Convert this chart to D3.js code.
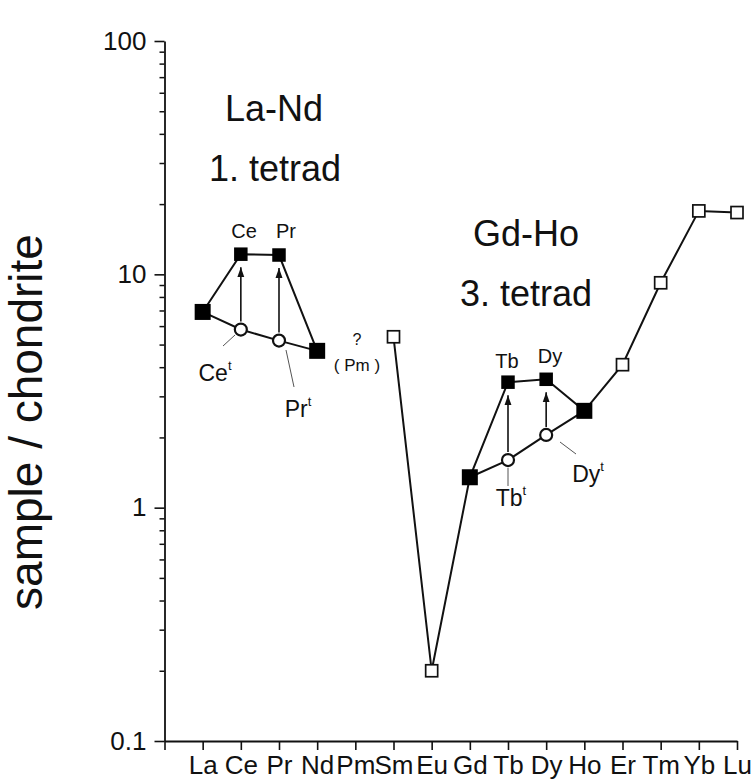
<!DOCTYPE html>
<html><head><meta charset="utf-8">
<script src="https://cdn.jsdelivr.net/npm/d3@7"></script>
<style>
body{margin:0;background:#fff;}
text{font-family:"Liberation Sans",Arial,sans-serif;fill:#111;}
</style></head>
<body>
<script>
const elements = ["La","Ce","Pr","Nd","Pm","Sm","Eu","Gd","Tb","Dy","Ho","Er","Tm","Yb","Lu"];
const sampleValues = [6.9, 12.2, 12.1, 4.7, null, 5.4, 0.2, 1.35, 3.45, 3.55, 2.6, 4.1, 9.2, 18.7, 18.4];
const filledElements = ["La","Ce","Pr","Nd","Gd","Tb","Dy","Ho"];
const bigElements = ["La","Nd","Gd","Ho"];
const tetradElements = ["Ce","Pr","Tb","Dy"];
const tetradValues = [5.8, 5.2, 1.6, 2.05];
const yTickValues = [0.1, 1, 10, 100];
const tetradTitles = [["La-Nd","1. tetrad"],["Gd-Ho","3. tetrad"]];

const W = 753, H = 780;
const svg = d3.select("body").append("svg").attr("width", W).attr("height", H);
const x = d3.scaleLinear().domain([0, 15]).range([164.5, 737]);
const y = d3.scaleLog().domain([0.1, 100]).range([741, 41]);
const pos = el => elements.indexOf(el) + 1;
const val = el => sampleValues[elements.indexOf(el)];
const tval = el => tetradValues[tetradElements.indexOf(el)];

// minor y ticks
const minor = [];
[0.1, 1, 10].forEach(d => { for (let k = 2; k <= 9; k++) minor.push(d * k); });
svg.append("g").attr("transform", `translate(${x(0)},0)`)
  .call(d3.axisLeft(y).tickValues(minor).tickSize(5).tickSizeOuter(0).tickFormat(""))
  .call(g => g.select(".domain").remove())
  .call(g => g.selectAll("line").attr("stroke", "#111").attr("stroke-width", 1.5));
// major y axis
svg.append("g").attr("transform", `translate(${x(0)},0)`)
  .call(d3.axisLeft(y).tickValues(yTickValues).tickSize(10).tickSizeOuter(0).tickPadding(8)
    .tickFormat(d => d < 1 ? "0.1" : String(d)))
  .call(g => g.select(".domain").attr("stroke", "#111").attr("stroke-width", 1.8))
  .call(g => g.selectAll("line").attr("stroke", "#111").attr("stroke-width", 1.6))
  .call(g => g.selectAll("text").attr("font-size", 26).attr("font-family", "Liberation Sans, Arial, sans-serif").attr("fill", "#111"));
// x axis
svg.append("g").attr("transform", `translate(0,${y(0.1)})`)
  .call(d3.axisBottom(x).tickValues(d3.range(0, 16)).tickSize(9).tickSizeOuter(0).tickPadding(6)
    .tickFormat(i => i === 0 ? "" : elements[i - 1]))
  .call(g => g.select(".domain").attr("stroke", "#111").attr("stroke-width", 1.8))
  .call(g => g.selectAll("line").attr("stroke", "#111").attr("stroke-width", 1.6))
  .call(g => g.selectAll("text").attr("font-size", 26).attr("font-family", "Liberation Sans, Arial, sans-serif").attr("fill", "#111"));

// y axis title
svg.append("text").attr("transform", "translate(42,422) rotate(-90)")
  .attr("text-anchor", "middle").attr("font-size", 46).text("sample / chondrite");

// lines
const line = d3.line().x(d => x(d[0])).y(d => y(d[1]));
const seg1 = ["La","Ce","Pr","Nd"].map(e => [pos(e), val(e)]);
const seg2 = ["Sm","Eu","Gd","Tb","Dy","Ho","Er","Tm","Yb","Lu"].map(e => [pos(e), val(e)]);
const t1 = [["La", val("La")], ["Ce", tval("Ce")], ["Pr", tval("Pr")], ["Nd", val("Nd")]].map(d => [pos(d[0]), d[1]]);
const t2 = [["Gd", val("Gd")], ["Tb", tval("Tb")], ["Dy", tval("Dy")], ["Ho", val("Ho")]].map(d => [pos(d[0]), d[1]]);
[seg1, seg2, t1, t2].forEach(s => svg.append("path").attr("d", line(s))
  .attr("fill", "none").attr("stroke", "#111").attr("stroke-width", 2));

// arrows
svg.append("defs").append("marker").attr("id", "ah").attr("viewBox", "0 0 10 10")
  .attr("refX", 10).attr("refY", 5).attr("markerWidth", 10).attr("markerHeight", 10)
  .attr("markerUnits", "userSpaceOnUse").attr("orient", "auto")
  .append("path").attr("d", "M0,1.5 L10,5 L0,8.5 Z").attr("fill", "#111");
tetradElements.forEach(e => {
  const cx = x(pos(e));
  svg.append("line").attr("x1", cx).attr("x2", cx)
    .attr("y1", y(tval(e)) - 8).attr("y2", y(val(e)) + 13)
    .attr("stroke", "#111").attr("stroke-width", 1.6).attr("marker-end", "url(#ah)");
});

// markers
elements.forEach((e, i) => {
  const v = sampleValues[i];
  if (v == null) return;
  const filled = filledElements.includes(e);
  const s = filled ? (bigElements.includes(e) ? 16 : 13.5) : 12;
  svg.append("rect").attr("x", x(i + 1) - s / 2).attr("y", y(v) - s / 2)
    .attr("width", s).attr("height", s)
    .attr("fill", filled ? "#000" : "#fff").attr("stroke", "#111")
    .attr("stroke-width", filled ? 0 : 1.7);
});
tetradElements.forEach((e, i) => {
  svg.append("circle").attr("cx", x(pos(e))).attr("cy", y(tetradValues[i])).attr("r", 6)
    .attr("fill", "#fff").attr("stroke", "#111").attr("stroke-width", 2.2);
});

// tetrad titles
svg.append("text").attr("x", 274).attr("y", 121).attr("text-anchor", "middle").attr("font-size", 36).text(tetradTitles[0][0]);
svg.append("text").attr("x", 275).attr("y", 181).attr("text-anchor", "middle").attr("font-size", 36).text(tetradTitles[0][1]);
svg.append("text").attr("x", 526).attr("y", 246).attr("text-anchor", "middle").attr("font-size", 36).text(tetradTitles[1][0]);
svg.append("text").attr("x", 526).attr("y", 306).attr("text-anchor", "middle").attr("font-size", 36).text(tetradTitles[1][1]);

// element labels above the measured points
[["Ce", 244, 238], ["Pr", 286, 238], ["Tb", 507, 368], ["Dy", 550, 363]].forEach(d => {
  svg.append("text").attr("x", d[1]).attr("y", d[2]).attr("text-anchor", "middle").attr("font-size", 20).text(d[0]);
});

// theoretical labels with leader lines
const tLabels = [
  {el: "Ce", tx: 215, ty: 381, l: [223, 346, 235, 335]},
  {el: "Pr", tx: 298, ty: 417, l: [286, 350, 294, 387]},
  {el: "Tb", tx: 511, ty: 506, l: [508, 468, 508, 486]},
  {el: "Dy", tx: 588, ty: 482, l: [560, 442, 576, 454]}
];
tLabels.forEach(d => {
  svg.append("line").attr("x1", d.l[0]).attr("y1", d.l[1]).attr("x2", d.l[2]).attr("y2", d.l[3])
    .attr("stroke", "#555").attr("stroke-width", 1);
  const t = svg.append("text").attr("x", d.tx).attr("y", d.ty).attr("text-anchor", "middle").attr("font-size", 23);
  t.append("tspan").text(d.el);
  t.append("tspan").attr("font-size", 13).attr("dy", -11).text("t");
});

// Pm note
svg.append("text").attr("x", 357).attr("y", 345).attr("text-anchor", "middle").attr("font-size", 16).text("?");
svg.append("text").attr("x", 357).attr("y", 371).attr("text-anchor", "middle").attr("font-size", 17).text("( Pm )");
</script>
</body></html>
